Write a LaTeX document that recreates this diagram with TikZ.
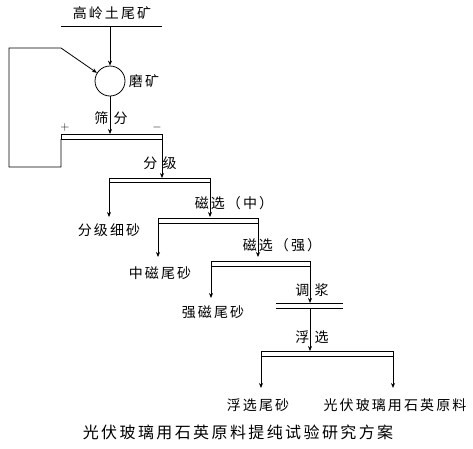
\documentclass[tikz,border=0pt]{standalone}
\usepackage{fontspec}
\newfontfamily\cjk[LetterSpace=15]{Noto Sans CJK SC}
\usetikzlibrary{arrows.meta}
\begin{document}
\begin{tikzpicture}[x=1pt,y=-1pt,line width=0.8pt,
  arr/.style={-{Stealth[length=5pt,width=4pt]}},
  lbl/.style={font=\cjk\fontsize{14}{14}\selectfont,inner sep=0pt},
  captxt/.style={font=\cjk\fontsize{16}{16}\selectfont,inner sep=0pt}]
\useasboundingbox (0,0) rectangle (473,448);
% feed
\node[lbl] (feed) at (112,13) {高岭土尾矿};
\coordinate (fl) at (61,26); \coordinate (fr) at (162,26); \coordinate (fm) at (110,26);
\draw (fl) -- (fr);
\node[circle,draw,minimum size=30pt,inner sep=0pt] (mill) at (110,81) {};
\node[lbl] (milllbl) at (144,81) {磨矿};
\draw[arr] (fm) -- (mill.north);
% screen
\coordinate (s1) at (61,134); \coordinate (s2) at (162,139);
\draw (s1) rectangle (s2);
\coordinate (sm) at (110,134);
\draw[arr] (mill.south) -- (sm);
\node[lbl] (sclbl) at (111,118) {筛 分};
\node[font=\fontsize{12}{12}\selectfont,inner sep=0pt] (plus) at (65,127) {+};
\node[font=\fontsize{12}{12}\selectfont,inner sep=0pt] (minus) at (157,127) {$-$};
\coordinate (sl) at (61,139); \coordinate (r1) at (61,167); \coordinate (r2) at (9,167);
\coordinate (r3) at (9,48); \coordinate (r4) at (61,48);
\draw[arr] (sl) -- (r1) -- (r2) -- (r3) -- (r4) -- (mill.148);
\coordinate (sr) at (162,139); \coordinate (c1) at (162,178);
\draw[arr] (sr) -- (c1);
\node[lbl] (fjlbl) at (160,163) {分 级};
% classification
\coordinate (b2a) at (109,178); \coordinate (b2b) at (210,182);
\draw (b2a) rectangle (b2b);
\coordinate (b2l) at (109,182); \coordinate (b2le) at (109,217);
\coordinate (b2re) at (210,217);
\draw[arr] (b2l) -- (b2le);
\draw[arr] (b2b) -- (b2re);
\node[lbl] (fine) at (109,230) {分级细砂};
\node[lbl] (mag1) at (234,203) {磁选（中）};
% magnetic medium
\coordinate (b3a) at (158,218); \coordinate (b3b) at (258,223);
\draw (b3a) rectangle (b3b);
\coordinate (b3l) at (158,223); \coordinate (b3le) at (158,257);
\coordinate (b3re) at (258,257);
\draw[arr] (b3l) -- (b3le);
\draw[arr] (b3b) -- (b3re);
\node[lbl] (mt) at (160,273) {中磁尾砂};
\node[lbl] (mag2) at (282,245) {磁选（强）};
% magnetic strong
\coordinate (b4a) at (211,261); \coordinate (b4b) at (310,266);
\draw (b4a) rectangle (b4b);
\coordinate (b4l) at (211,266); \coordinate (b4le) at (211,298);
\coordinate (b4re) at (310,303);
\draw[arr] (b4l) -- (b4le);
\draw[arr] (b4b) -- (b4re);
\node[lbl] (st) at (213,312) {强磁尾砂};
\node[lbl] (tj) at (312,290) {调 浆};
% conditioning
\coordinate (d1) at (276,303); \coordinate (d2) at (343,303);
\coordinate (d3) at (276,308); \coordinate (d4) at (343,308);
\draw (d1) -- (d2); \draw (d3) -- (d4);
\coordinate (dm) at (310,308); \coordinate (b5m) at (310,351);
\draw[arr] (dm) -- (b5m);
\node[lbl] (fx) at (312,337) {浮 选};
% flotation
\coordinate (b5a) at (261,351); \coordinate (b5b) at (393,356);
\draw (b5a) rectangle (b5b);
\coordinate (b5l) at (261,356); \coordinate (b5le) at (261,388);
\coordinate (b5re) at (393,388);
\draw[arr] (b5l) -- (b5le);
\draw[arr] (b5b) -- (b5re);
\node[lbl] (ft) at (258,405) {浮选尾砂};
\node[lbl] (prod) at (395,405) {光伏玻璃用石英原料};
\node[captxt] (caption) at (238,432) {光伏玻璃用石英原料提纯试验研究方案};
\end{tikzpicture}
\end{document}
